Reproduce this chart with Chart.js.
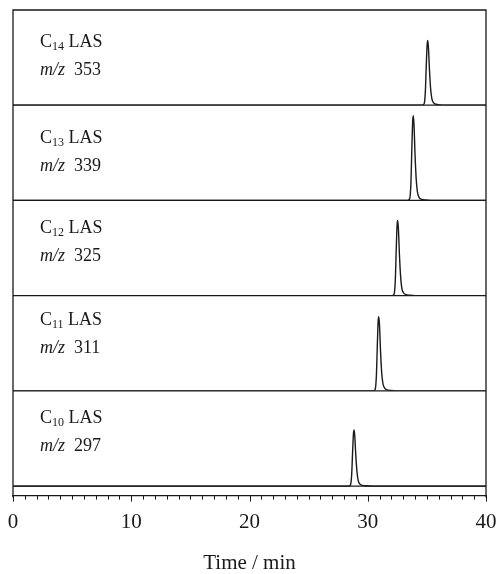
<!DOCTYPE html>
<html><head><meta charset="utf-8">
<script src="https://cdn.jsdelivr.net/npm/chart.js@4"></script>
<style>html,body{margin:0;padding:0;background:#fff}#wrap{width:497px;height:574px;position:relative}</style>
</head><body><div id="wrap"><canvas id="c"></canvas></div>
<script>
// ---- data ----
const carbonNumbers = ['14', '13', '12', '11', '10'];
const mzValues = ['353', '339', '325', '311', '297'];
const xTickLabels = [0, 10, 20, 30, 40];

const c14Time   = [0, 34.60, 34.77, 34.87, 34.95, 35.02, 35.07, 35.13, 35.22, 35.32, 35.42, 35.57, 35.77, 36.10, 36.50, 40];
const c14Signal = [0, 0, 1.5, 14, 42, 63, 68, 61, 37, 17, 7, 2.5, 1.0, 0.3, 0, 0];
const c13Time   = [0, 33.38, 33.55, 33.65, 33.73, 33.80, 33.85, 33.91, 34.00, 34.10, 34.20, 34.35, 34.55, 34.90, 35.30, 40];
const c13Signal = [0, 0, 2, 18, 55, 83, 89, 80, 48, 22, 9, 3, 1.2, 0.4, 0, 0];
const c12Time   = [0, 32.06, 32.23, 32.33, 32.41, 32.48, 32.53, 32.59, 32.68, 32.78, 32.88, 33.03, 33.23, 33.58, 34.00, 40];
const c12Signal = [0, 0, 1.8, 16, 49, 74, 79, 71, 43, 20, 8, 2.8, 1.1, 0.4, 0, 0];
const c11Time   = [0, 30.46, 30.63, 30.73, 30.81, 30.88, 30.93, 30.99, 31.08, 31.18, 31.28, 31.43, 31.63, 31.98, 32.40, 40];
const c11Signal = [0, 0, 1.8, 16, 48, 73, 78, 70, 42, 19, 8, 2.8, 1.1, 0.4, 0, 0];
const c10Time   = [0, 28.37, 28.54, 28.64, 28.72, 28.79, 28.84, 28.90, 28.99, 29.09, 29.19, 29.34, 29.54, 29.90, 30.40, 40];
const c10Signal = [0, 0, 1.3, 12, 36, 55, 59, 53, 32, 15, 6, 2.1, 0.8, 0.3, 0, 0];

// ---- styling ----
const INK = '#1a1a1a';
const SERIF = "'Liberation Serif', 'Times New Roman', serif";
const panelIds = ['p14', 'p13', 'p12', 'p11', 'p10'];
const labelDy = [37, 38, 33, 29, 32];

const seriesTimes = [c14Time, c13Time, c12Time, c11Time, c10Time];
const seriesSignals = [c14Signal, c13Signal, c12Signal, c11Signal, c10Signal];

const datasets = seriesTimes.map((t, i) => ({
  label: 'C' + carbonNumbers[i] + ' LAS',
  data: t.map((x, k) => ({ x: x, y: seriesSignals[i][k] })),
  yAxisID: panelIds[i],
  borderColor: INK,
  borderWidth: 1.4,
  pointRadius: 0,
  fill: false,
  cubicInterpolationMode: 'monotone'
}));

// stacked axes are laid out bottom-up, so define the bottom panel first
const yScales = {};
for (let i = panelIds.length - 1; i >= 0; i--) {
  const last = i === panelIds.length - 1;
  yScales[panelIds[i]] = {
    type: 'linear',
    display: false,
    position: 'left',
    stack: 'panels',
    stackWeight: last ? 1.1 : 1,
    min: last ? -10 : 0,
    max: 100
  };
}

const framePlugin = {
  id: 'frame',
  afterDatasetsDraw(chart) {
    const { ctx, chartArea, scales } = chart;
    const { left, right, top, bottom } = chartArea;
    ctx.save();
    ctx.strokeStyle = INK;
    ctx.lineWidth = 1.3;
    ctx.beginPath();
    ctx.moveTo(left, bottom + 2);
    ctx.lineTo(left, top);
    ctx.lineTo(right, top);
    ctx.lineTo(right, bottom + 2);
    panelIds.forEach(id => {
      const y = scales[id].getPixelForValue(0);
      ctx.moveTo(left, y);
      ctx.lineTo(right, y);
    });
    ctx.stroke();
    // tick marks (minor every minute, longer at labelled values)
    ctx.beginPath();
    ctx.lineWidth = 1;
    scales.x.ticks.forEach(t => {
      const px = Math.round(scales.x.getPixelForValue(t.value)) + 0.5;
      const len = xTickLabels.includes(t.value) ? 6 : 4;
      ctx.moveTo(px, bottom);
      ctx.lineTo(px, bottom + len);
    });
    ctx.stroke();
    // panel labels
    ctx.fillStyle = INK;
    ctx.textBaseline = 'alphabetic';
    panelIds.forEach((id, i) => {
      const s = scales[id];
      let x = left + 27;
      const y1 = s.top + labelDy[i];
      ctx.font = '18px ' + SERIF;
      ctx.fillText('C', x, y1);
      x += ctx.measureText('C').width;
      ctx.font = '12px ' + SERIF;
      ctx.fillText(carbonNumbers[i], x, y1 + 3);
      x += ctx.measureText(carbonNumbers[i]).width;
      ctx.font = '18px ' + SERIF;
      ctx.fillText(' LAS', x, y1);
      const y2 = y1 + 28;
      x = left + 27;
      ctx.font = 'italic 18px ' + SERIF;
      ctx.fillText('m/z', x, y2);
      x += ctx.measureText('m/z').width;
      ctx.font = '18px ' + SERIF;
      ctx.fillText('  ' + mzValues[i], x, y2);
    });
    ctx.restore();
  }
};

new Chart(document.getElementById('c'), {
  type: 'line',
  data: { datasets: datasets },
  options: {
    responsive: true,
    maintainAspectRatio: false,
    animation: false,
    layout: { padding: { left: 13, right: 11, top: 10, bottom: -2 } },
    plugins: { legend: { display: false }, tooltip: { enabled: false } },
    scales: Object.assign({
      x: {
        type: 'linear',
        position: 'bottom',
        min: 0,
        max: 40,
        border: { display: true, color: INK, width: 1.3 },
        grid: { drawOnChartArea: false, drawTicks: true, tickLength: 14, color: 'rgba(0,0,0,0)' },
        ticks: {
          stepSize: 1,
          maxTicksLimit: 41,
          autoSkip: false,
          maxRotation: 0,
          padding: 0,
          color: INK,
          font: { family: SERIF, size: 21 },
          callback: v => (xTickLabels.includes(v) ? String(v) : '')
        },
        title: {
          display: true,
          text: 'Time / min',
          color: INK,
          font: { family: SERIF, size: 21 },
          padding: { top: 16, bottom: 0 }
        }
      }
    }, yScales)
  },
  plugins: [framePlugin]
});
</script>
</body></html>
